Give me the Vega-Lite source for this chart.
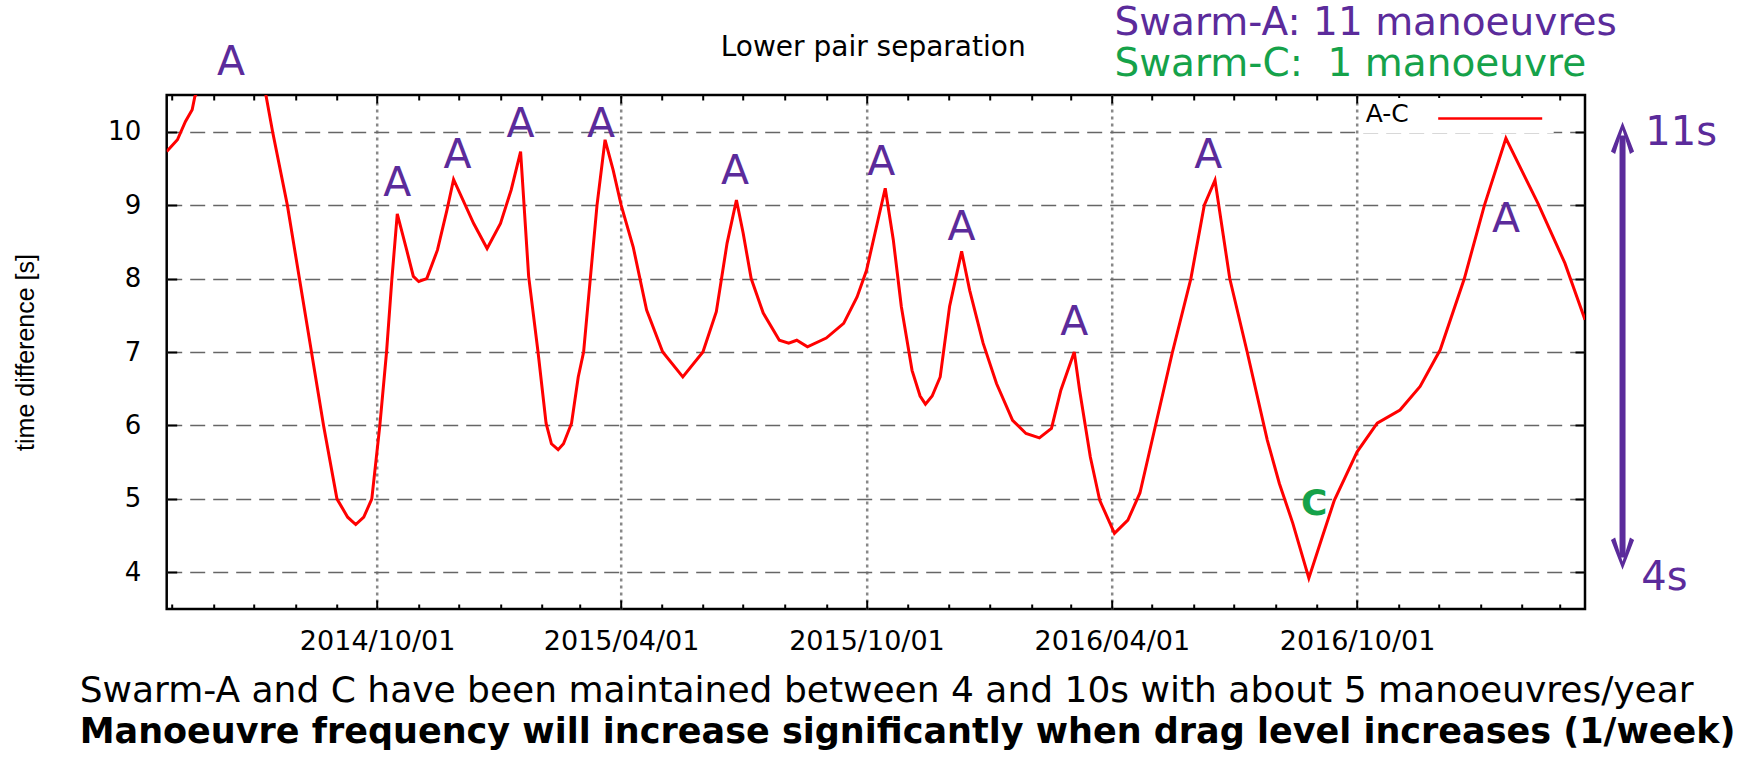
{
  "$schema": "https://vega.github.io/schema/vega-lite/v6.json",
  "width": 1418.3,
  "height": 514,
  "autosize": {"type": "none", "contains": "content"},
  "padding": {"left": 166.7, "top": 95, "right": 164, "bottom": 150},
  "background": "white",
  "config": {"view": {"stroke": "black", "strokeWidth": 2.5}, "font": "DejaVu Sans"},
  "title": {
    "text": "Swarm-A and C have been maintained between 4 and 10s with about 5 manoeuvres/year",
    "subtitle": "Manoeuvre frequency will increase significantly when drag level increases (1/week)",
    "orient": "bottom", "anchor": "start", "frame": "group", "dx": -87, "offset": 16,
    "font": "DejaVu Sans", "fontSize": 36, "fontWeight": "normal", "color": "black",
    "subtitleFont": "DejaVu Sans", "subtitleFontSize": 35, "subtitleFontWeight": "bold", "subtitleColor": "black", "subtitlePadding": 5
  },
  "datasets": {
    "curve": [
      {"date": "2014-04-27", "v": 9.73, "series": "A-C"},
      {"date": "2014-05-05", "v": 9.89, "series": "A-C"},
      {"date": "2014-05-11", "v": 10.14, "series": "A-C"},
      {"date": "2014-05-16", "v": 10.30, "series": "A-C"},
      {"date": "2014-05-18", "v": 10.48, "series": "A-C"},
      {"date": "2014-05-29", "v": 10.85, "series": "A-C"},
      {"date": "2014-06-08", "v": 11.10, "series": "A-C"},
      {"date": "2014-06-13", "v": 11.20, "series": "A-C"},
      {"date": "2014-06-23", "v": 11.15, "series": "A-C"},
      {"date": "2014-07-01", "v": 10.95, "series": "A-C"},
      {"date": "2014-07-10", "v": 10.50, "series": "A-C"},
      {"date": "2014-07-15", "v": 10.00, "series": "A-C"},
      {"date": "2014-07-26", "v": 9.00, "series": "A-C"},
      {"date": "2014-08-04", "v": 8.00, "series": "A-C"},
      {"date": "2014-08-13", "v": 7.00, "series": "A-C"},
      {"date": "2014-08-22", "v": 6.00, "series": "A-C"},
      {"date": "2014-09-01", "v": 5.00, "series": "A-C"},
      {"date": "2014-09-09", "v": 4.75, "series": "A-C"},
      {"date": "2014-09-15", "v": 4.65, "series": "A-C"},
      {"date": "2014-09-21", "v": 4.75, "series": "A-C"},
      {"date": "2014-09-27", "v": 5.00, "series": "A-C"},
      {"date": "2014-10-03", "v": 6.00, "series": "A-C"},
      {"date": "2014-10-08", "v": 7.00, "series": "A-C"},
      {"date": "2014-10-12", "v": 8.00, "series": "A-C"},
      {"date": "2014-10-16", "v": 8.88, "series": "A-C"},
      {"date": "2014-10-23", "v": 8.39, "series": "A-C"},
      {"date": "2014-10-28", "v": 8.03, "series": "A-C"},
      {"date": "2014-11-01", "v": 7.96, "series": "A-C"},
      {"date": "2014-11-07", "v": 8.00, "series": "A-C"},
      {"date": "2014-11-15", "v": 8.39, "series": "A-C"},
      {"date": "2014-11-22", "v": 8.93, "series": "A-C"},
      {"date": "2014-11-27", "v": 9.35, "series": "A-C"},
      {"date": "2014-12-12", "v": 8.75, "series": "A-C"},
      {"date": "2014-12-22", "v": 8.41, "series": "A-C"},
      {"date": "2015-01-01", "v": 8.75, "series": "A-C"},
      {"date": "2015-01-09", "v": 9.21, "series": "A-C"},
      {"date": "2015-01-16", "v": 9.73, "series": "A-C"},
      {"date": "2015-01-22", "v": 8.03, "series": "A-C"},
      {"date": "2015-01-29", "v": 7.00, "series": "A-C"},
      {"date": "2015-02-04", "v": 6.03, "series": "A-C"},
      {"date": "2015-02-08", "v": 5.75, "series": "A-C"},
      {"date": "2015-02-13", "v": 5.67, "series": "A-C"},
      {"date": "2015-02-17", "v": 5.75, "series": "A-C"},
      {"date": "2015-02-23", "v": 6.03, "series": "A-C"},
      {"date": "2015-02-28", "v": 6.66, "series": "A-C"},
      {"date": "2015-03-04", "v": 7.00, "series": "A-C"},
      {"date": "2015-03-09", "v": 8.00, "series": "A-C"},
      {"date": "2015-03-14", "v": 9.00, "series": "A-C"},
      {"date": "2015-03-20", "v": 9.89, "series": "A-C"},
      {"date": "2015-03-26", "v": 9.48, "series": "A-C"},
      {"date": "2015-04-01", "v": 9.00, "series": "A-C"},
      {"date": "2015-04-10", "v": 8.43, "series": "A-C"},
      {"date": "2015-04-20", "v": 7.57, "series": "A-C"},
      {"date": "2015-05-02", "v": 7.00, "series": "A-C"},
      {"date": "2015-05-17", "v": 6.66, "series": "A-C"},
      {"date": "2015-06-01", "v": 7.00, "series": "A-C"},
      {"date": "2015-06-11", "v": 7.55, "series": "A-C"},
      {"date": "2015-06-19", "v": 8.48, "series": "A-C"},
      {"date": "2015-06-26", "v": 9.07, "series": "A-C"},
      {"date": "2015-07-01", "v": 8.62, "series": "A-C"},
      {"date": "2015-07-07", "v": 8.00, "series": "A-C"},
      {"date": "2015-07-16", "v": 7.53, "series": "A-C"},
      {"date": "2015-07-28", "v": 7.16, "series": "A-C"},
      {"date": "2015-08-04", "v": 7.12, "series": "A-C"},
      {"date": "2015-08-10", "v": 7.16, "series": "A-C"},
      {"date": "2015-08-18", "v": 7.07, "series": "A-C"},
      {"date": "2015-09-01", "v": 7.19, "series": "A-C"},
      {"date": "2015-09-14", "v": 7.39, "series": "A-C"},
      {"date": "2015-09-24", "v": 7.75, "series": "A-C"},
      {"date": "2015-10-01", "v": 8.11, "series": "A-C"},
      {"date": "2015-10-09", "v": 8.75, "series": "A-C"},
      {"date": "2015-10-15", "v": 9.23, "series": "A-C"},
      {"date": "2015-10-21", "v": 8.53, "series": "A-C"},
      {"date": "2015-10-27", "v": 7.62, "series": "A-C"},
      {"date": "2015-11-04", "v": 6.75, "series": "A-C"},
      {"date": "2015-11-10", "v": 6.40, "series": "A-C"},
      {"date": "2015-11-14", "v": 6.29, "series": "A-C"},
      {"date": "2015-11-19", "v": 6.40, "series": "A-C"},
      {"date": "2015-11-25", "v": 6.66, "series": "A-C"},
      {"date": "2015-12-02", "v": 7.62, "series": "A-C"},
      {"date": "2015-12-11", "v": 8.37, "series": "A-C"},
      {"date": "2015-12-17", "v": 7.84, "series": "A-C"},
      {"date": "2015-12-27", "v": 7.12, "series": "A-C"},
      {"date": "2016-01-06", "v": 6.57, "series": "A-C"},
      {"date": "2016-01-18", "v": 6.07, "series": "A-C"},
      {"date": "2016-01-28", "v": 5.89, "series": "A-C"},
      {"date": "2016-02-07", "v": 5.83, "series": "A-C"},
      {"date": "2016-02-16", "v": 5.96, "series": "A-C"},
      {"date": "2016-02-23", "v": 6.48, "series": "A-C"},
      {"date": "2016-03-04", "v": 7.00, "series": "A-C"},
      {"date": "2016-03-08", "v": 6.48, "series": "A-C"},
      {"date": "2016-03-16", "v": 5.57, "series": "A-C"},
      {"date": "2016-03-23", "v": 4.98, "series": "A-C"},
      {"date": "2016-04-03", "v": 4.53, "series": "A-C"},
      {"date": "2016-04-13", "v": 4.71, "series": "A-C"},
      {"date": "2016-04-22", "v": 5.08, "series": "A-C"},
      {"date": "2016-05-04", "v": 6.03, "series": "A-C"},
      {"date": "2016-05-16", "v": 6.98, "series": "A-C"},
      {"date": "2016-05-30", "v": 8.00, "series": "A-C"},
      {"date": "2016-06-09", "v": 9.00, "series": "A-C"},
      {"date": "2016-06-17", "v": 9.34, "series": "A-C"},
      {"date": "2016-06-28", "v": 8.00, "series": "A-C"},
      {"date": "2016-07-11", "v": 7.00, "series": "A-C"},
      {"date": "2016-07-26", "v": 5.80, "series": "A-C"},
      {"date": "2016-08-04", "v": 5.21, "series": "A-C"},
      {"date": "2016-08-14", "v": 4.67, "series": "A-C"},
      {"date": "2016-08-26", "v": 3.92, "series": "A-C"},
      {"date": "2016-09-05", "v": 4.48, "series": "A-C"},
      {"date": "2016-09-14", "v": 4.98, "series": "A-C"},
      {"date": "2016-10-01", "v": 5.64, "series": "A-C"},
      {"date": "2016-10-16", "v": 6.03, "series": "A-C"},
      {"date": "2016-11-02", "v": 6.21, "series": "A-C"},
      {"date": "2016-11-17", "v": 6.53, "series": "A-C"},
      {"date": "2016-12-02", "v": 7.03, "series": "A-C"},
      {"date": "2016-12-20", "v": 8.00, "series": "A-C"},
      {"date": "2017-01-04", "v": 9.00, "series": "A-C"},
      {"date": "2017-01-20", "v": 9.91, "series": "A-C"},
      {"date": "2017-02-13", "v": 9.02, "series": "A-C"},
      {"date": "2017-03-05", "v": 8.21, "series": "A-C"},
      {"date": "2017-03-20", "v": 7.44, "series": "A-C"}
    ],
    "manA": [
      {"date": "2014-06-14", "v": 10.77, "label": "A"},
      {"date": "2014-10-16", "v": 9.12, "label": "A"},
      {"date": "2014-11-30", "v": 9.50, "label": "A"},
      {"date": "2015-01-16", "v": 9.93, "label": "A"},
      {"date": "2015-03-17", "v": 9.93, "label": "A"},
      {"date": "2015-06-25", "v": 9.29, "label": "A"},
      {"date": "2015-10-12", "v": 9.41, "label": "A"},
      {"date": "2015-12-11", "v": 8.53, "label": "A"},
      {"date": "2016-03-04", "v": 7.23, "label": "A"},
      {"date": "2016-06-12", "v": 9.50, "label": "A"},
      {"date": "2017-01-20", "v": 8.64, "label": "A"}
    ],
    "manC": [
      {"date": "2016-08-30", "v": 4.78, "label": "C"}
    ],
    "head": [
      {"date": "2015-10-06", "v": 11.03, "label": "Lower pair separation"}
    ],
    "countA": [
      {"date": "2016-04-03", "v": 11.32, "label": "Swarm-A: 11 manoeuvres"}
    ],
    "countC": [
      {"date": "2016-04-03", "v": 10.76, "label": "Swarm-C:\u00a0 1 manoeuvre"}
    ],
    "shaft": [
      {"date": "2017-04-17", "v": 4.2, "v2": 9.95}
    ],
    "heads": [
      {"date": "2017-04-17", "v": 9.91, "dir": "up"},
      {"date": "2017-04-17", "v": 4.26, "dir": "down"}
    ],
    "range": [
      {"date": "2017-05-04", "v": 9.82, "label": "11s"},
      {"date": "2017-05-01", "v": 3.76, "label": "4s"}
    ]
  },
  "layer": [
    {
      "data": {"name": "curve"},
      "mark": {"type": "line", "strokeWidth": 3, "clip": true},
      "encoding": {
        "x": {
          "field": "date", "type": "temporal",
          "scale": {"type": "utc", "nice": false, "domain": [{"year": 2014, "month": 4, "date": 27, "utc": true}, {"year": 2017, "month": 3, "date": 20, "utc": true}]},
          "axis": {
            "orient": "bottom", "title": null,
            "tickCount": {"interval": "month", "step": 1},
            "labelExpr": "(utcmonth(datum.value)==3||utcmonth(datum.value)==9) ? utcFormat(datum.value,'%Y/%m/%d') : ''",
            "labelOverlap": false, "labelFlush": false,
            "labelFont": "DejaVu Sans", "labelFontSize": 27, "labelColor": "black", "labelPadding": 28,
            "domain": false, "ticks": true, "tickColor": "black", "tickWidth": 2,
            "tickSize": {"condition": {"test": "utcmonth(datum.value)==3||utcmonth(datum.value)==9", "value": -9}, "value": -5},
            "grid": true, "gridColor": "#888888", "gridWidth": 2.5, "gridDash": [3, 4],
            "gridOpacity": {"condition": {"test": "utcmonth(datum.value)==3||utcmonth(datum.value)==9", "value": 1}, "value": 0}
          }
        },
        "y": {
          "field": "v", "type": "quantitative",
          "scale": {"domain": [3.5, 10.5], "nice": false, "zero": false},
          "axis": {
            "orient": "left", "title": "time difference [s]",
            "titleFont": "Liberation Sans", "titleFontSize": 25, "titleFontWeight": "normal", "titleColor": "black", "titlePadding": 69,
            "values": [4, 5, 6, 7, 8, 9, 10],
            "labelFont": "DejaVu Sans", "labelFontSize": 26, "labelColor": "black", "labelPadding": 36,
            "domain": false, "tickSize": -10, "tickWidth": 2, "tickColor": "black",
            "grid": true, "gridColor": "#666666", "gridWidth": 1.5, "gridDash": [15, 8]
          }
        },
        "color": {
          "field": "series", "type": "nominal",
          "scale": {"domain": ["A-C"], "range": ["#ff0000"]},
          "legend": {
            "orient": "none", "legendX": 1193, "legendY": 3,
            "title": "A-C", "titleOrient": "left", "titleAnchor": "middle", "titleBaseline": "middle",
            "titleFont": "DejaVu Sans", "titleFontSize": 25, "titleFontWeight": "normal", "titleColor": "black", "titlePadding": 66,
            "labelExpr": "''", "symbolType": "M-4,0H4", "symbolSize": 676, "symbolStrokeWidth": 2.5,
            "padding": 6, "fillColor": "white"
          }
        }
      }
    },
    {
      "data": {"name": "manA"},
      "mark": {"type": "text", "color": "#5b2b9b", "font": "DejaVu Sans", "fontSize": 41, "align": "center", "baseline": "alphabetic"},
      "encoding": {
        "x": {
          "field": "date", "type": "temporal",
          "scale": {"type": "utc", "nice": false, "domain": [{"year": 2014, "month": 4, "date": 27, "utc": true}, {"year": 2017, "month": 3, "date": 20, "utc": true}]},
          "axis": {
            "orient": "top", "title": null, "labels": false, "grid": false, "domain": false,
            "tickCount": {"interval": "month", "step": 1}, "tickColor": "black", "tickWidth": 2,
            "tickSize": {"condition": {"test": "utcmonth(datum.value)==3||utcmonth(datum.value)==9", "value": -8}, "value": -5}
          }
        },
        "y": {
          "field": "v", "type": "quantitative",
          "scale": {"domain": [3.5, 10.5], "nice": false, "zero": false},
          "axis": {"orient": "right", "title": null, "labels": false, "grid": false, "domain": false, "values": [4, 5, 6, 7, 8, 9, 10], "tickSize": -10, "tickWidth": 2, "tickColor": "black"}
        },
        "text": {"field": "label"}
      }
    },
    {
      "data": {"name": "manC"},
      "mark": {"type": "text", "color": "#15a24a", "font": "DejaVu Sans", "fontWeight": "bold", "fontSize": 36, "align": "center", "baseline": "alphabetic"},
      "encoding": {
        "x": {"field": "date", "type": "temporal", "axis": null},
        "y": {"field": "v", "type": "quantitative", "axis": null},
        "text": {"field": "label"}
      }
    },
    {
      "data": {"name": "head"},
      "mark": {"type": "text", "color": "black", "font": "DejaVu Sans", "fontSize": 28, "align": "center", "baseline": "alphabetic"},
      "encoding": {
        "x": {"field": "date", "type": "temporal", "axis": null},
        "y": {"field": "v", "type": "quantitative", "axis": null},
        "text": {"field": "label"}
      }
    },
    {
      "data": {"name": "countA"},
      "mark": {"type": "text", "color": "#5b2b9b", "font": "DejaVu Sans", "fontSize": 39, "align": "left", "baseline": "alphabetic"},
      "encoding": {
        "x": {"field": "date", "type": "temporal", "axis": null},
        "y": {"field": "v", "type": "quantitative", "axis": null},
        "text": {"field": "label"}
      }
    },
    {
      "data": {"name": "countC"},
      "mark": {"type": "text", "color": "#15a24a", "font": "DejaVu Sans", "fontSize": 39, "align": "left", "baseline": "alphabetic"},
      "encoding": {
        "x": {"field": "date", "type": "temporal", "axis": null},
        "y": {"field": "v", "type": "quantitative", "axis": null},
        "text": {"field": "label"}
      }
    },
    {
      "data": {"name": "shaft"},
      "mark": {"type": "rule", "color": "#5b2b9b", "strokeWidth": 6},
      "encoding": {
        "x": {"field": "date", "type": "temporal", "axis": null},
        "y": {"field": "v", "type": "quantitative", "axis": null},
        "y2": {"field": "v2"}
      }
    },
    {
      "data": {"name": "heads"},
      "mark": {"type": "point", "filled": true, "size": 1089, "color": "#5b2b9b", "opacity": 1},
      "encoding": {
        "x": {"field": "date", "type": "temporal", "axis": null},
        "y": {"field": "v", "type": "quantitative", "axis": null},
        "shape": {
          "field": "dir", "type": "nominal", "legend": null,
          "scale": {"domain": ["up", "down"], "range": ["M0,-1L0.7,0.8L0.45,0.95L0,-0.5L-0.45,0.95L-0.7,0.8Z", "M0,1L0.7,-0.8L0.45,-0.95L0,0.5L-0.45,-0.95L-0.7,-0.8Z"]}
        }
      }
    },
    {
      "data": {"name": "range"},
      "mark": {"type": "text", "color": "#5b2b9b", "font": "DejaVu Sans", "fontSize": 40, "align": "left", "baseline": "alphabetic"},
      "encoding": {
        "x": {"field": "date", "type": "temporal", "axis": null},
        "y": {"field": "v", "type": "quantitative", "axis": null},
        "text": {"field": "label"}
      }
    }
  ],
  "resolve": {"axis": {"x": "independent", "y": "independent"}}
}
